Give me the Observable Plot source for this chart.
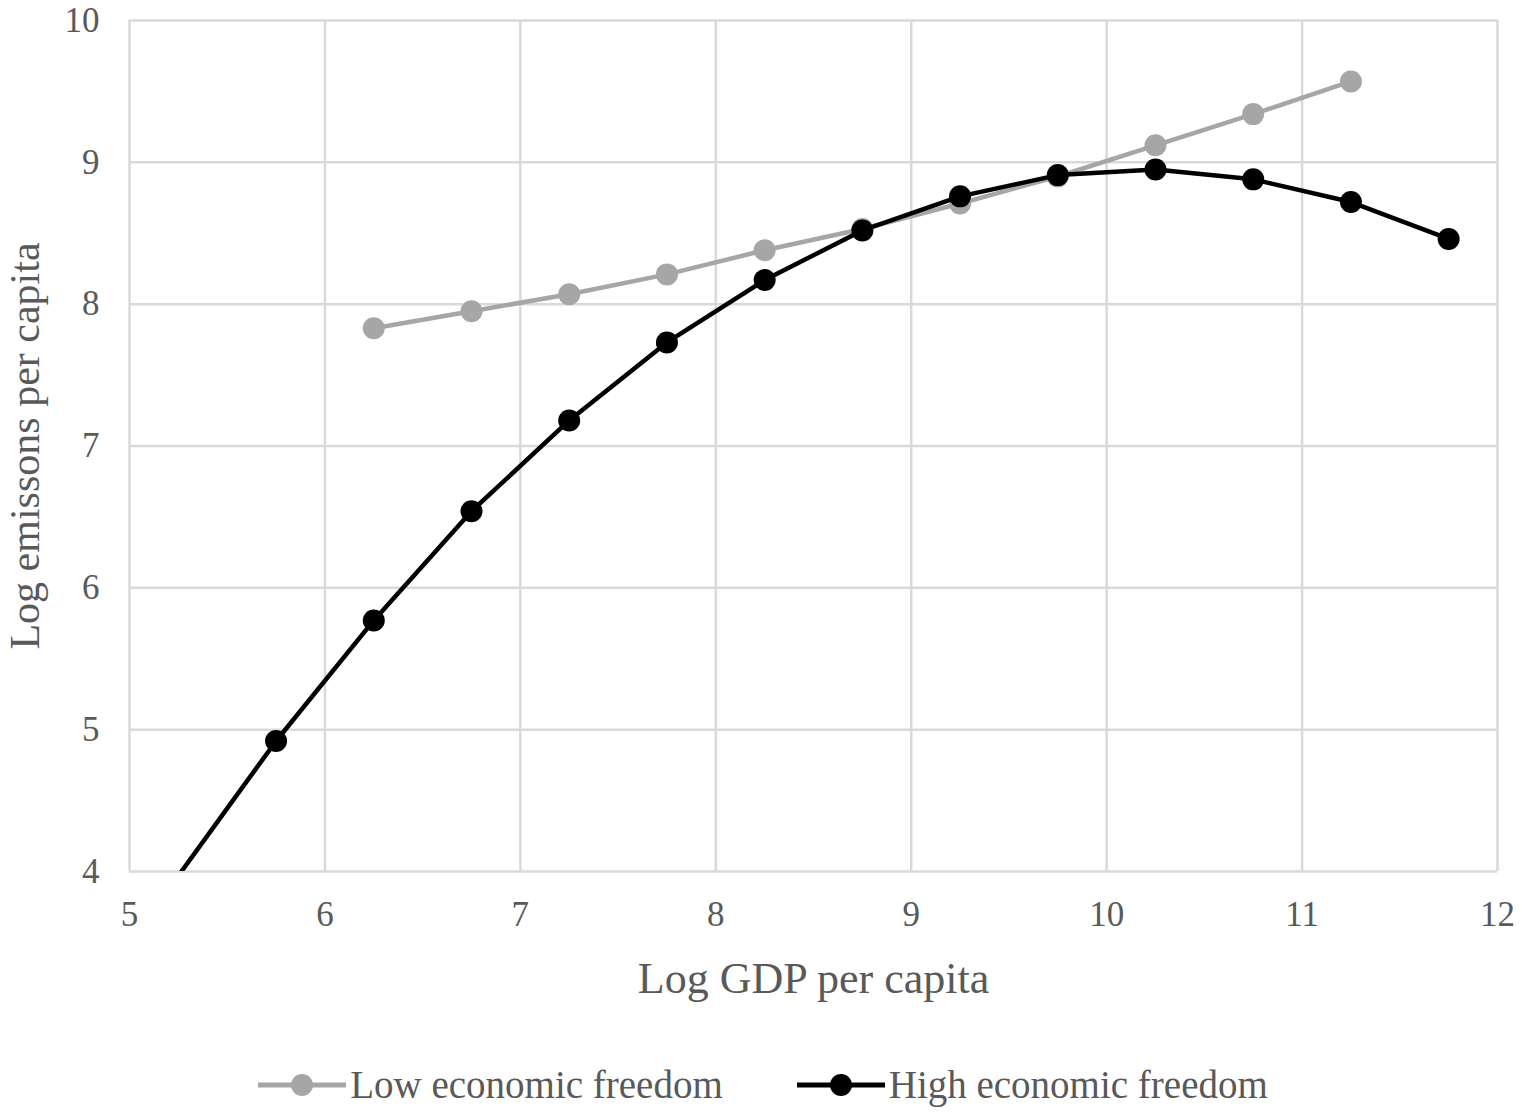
<!DOCTYPE html>
<html>
<head>
<meta charset="utf-8">
<script src="https://cdn.jsdelivr.net/npm/d3@7"></script>
<script src="https://cdn.jsdelivr.net/npm/@observablehq/plot@0.6"></script>
<style>
  html, body { margin: 0; padding: 0; background: #fff; }
  #chart svg { display: block; }
  #legend {
    display: flex; justify-content: center; align-items: center;
    height: 69px; font-family: "Liberation Serif", serif; font-size: 39px; color: #595959;
    gap: 72px;
  }
  .item { display: flex; align-items: center; }
  .item svg { display: block; margin-right: 2px; }
</style>
</head>
<body>
<div id="chart"></div>
<div id="legend"></div>
<script>
// Data
const lowX = [6.25, 6.75, 7.25, 7.75, 8.25, 8.75, 9.25, 9.75, 10.25, 10.75, 11.25];
const lowY = [7.83, 7.95, 8.07, 8.21, 8.38, 8.53, 8.71, 8.90, 9.12, 9.34, 9.57];
const highX = [5.25, 5.75, 6.25, 6.75, 7.25, 7.75, 8.25, 8.75, 9.25, 9.75, 10.25, 10.75, 11.25, 11.75];
const highY = [3.97, 4.92, 5.77, 6.54, 7.18, 7.73, 8.17, 8.52, 8.76, 8.91, 8.95, 8.88, 8.72, 8.46];
const xTicks = [5, 6, 7, 8, 9, 10, 11, 12];
const yTicks = [4, 5, 6, 7, 8, 9, 10];
const seriesNames = ["Low economic freedom", "High economic freedom"];
const seriesColors = ["#a6a6a6", "#000000"];
const xTitle = "Log GDP per capita";
const yTitle = "Log emissons per capita";

const low = lowX.map((x, i) => ({x, y: lowY[i]}));
const high = highX.map((x, i) => ({x, y: highY[i]}));

const font = "Liberation Serif, serif";
const textColor = "#595959";
const fmt = d3.format("d");

const chart = Plot.plot({
  width: 1524,
  height: 1050,
  marginLeft: 129,
  marginRight: 27,
  marginTop: 20,
  marginBottom: 179,
  style: {fontFamily: font, fontSize: "34px", color: textColor, background: "#fff"},
  x: {domain: [5, 12], label: null},
  y: {domain: [4, 10], label: null},
  marks: [
    Plot.gridX(xTicks, {stroke: "#d9d9d9", strokeOpacity: 1, strokeWidth: 2.5}),
    Plot.gridY(yTicks, {stroke: "#d9d9d9", strokeOpacity: 1, strokeWidth: 2.5}),
    Plot.axisX(xTicks, {tickSize: 0, tickPadding: 30, fill: textColor, fontSize: 35, tickFormat: fmt, label: null}),
    Plot.axisY(yTicks, {tickSize: 0, tickPadding: 30, fill: textColor, fontSize: 35, tickFormat: fmt, label: null}),
    Plot.line(low, {x: "x", y: "y", stroke: seriesColors[0], strokeWidth: 4.5, clip: true}),
    Plot.dot(low, {x: "x", y: "y", r: 11, fill: seriesColors[0], clip: true}),
    Plot.line(high, {x: "x", y: "y", stroke: seriesColors[1], strokeWidth: 4.5, clip: true}),
    Plot.dot(high, {filter: d => d.y >= 4, x: "x", y: "y", r: 11, fill: seriesColors[1], clip: true}),
    Plot.text([xTitle], {frameAnchor: "bottom", dy: 107, fontSize: 44, fill: textColor, lineAnchor: "middle", textAnchor: "middle"}),
    Plot.text([yTitle], {frameAnchor: "left", dx: -104, rotate: -90, fontSize: 42, fill: textColor, lineAnchor: "middle", textAnchor: "middle"})
  ]
});
document.getElementById("chart").append(chart);

const legend = document.getElementById("legend");
seriesNames.forEach((name, i) => {
  const item = document.createElement("div");
  item.className = "item";
  item.innerHTML = `<svg width="92" height="30"><line x1="2" x2="90" y1="15" y2="15" stroke="${seriesColors[i]}" stroke-width="5"/><circle cx="46" cy="15" r="11" fill="${seriesColors[i]}"/></svg><span>${name}</span>`;
  legend.append(item);
});
</script>
</body>
</html>
